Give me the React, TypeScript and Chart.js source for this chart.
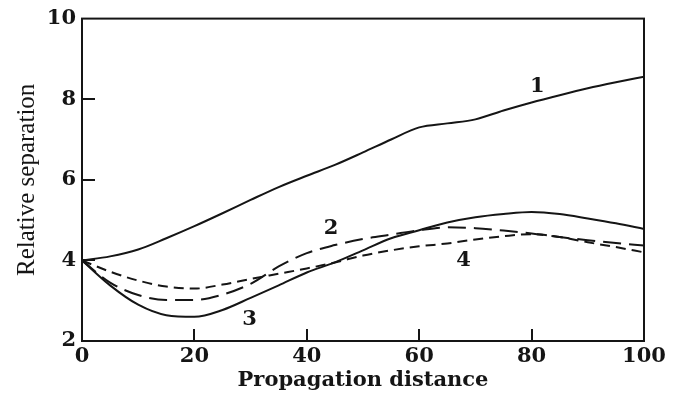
import React, { useEffect, useRef } from 'react';
import { Chart, registerables } from 'chart.js';

Chart.register(...registerables);

// Propagation distance sample points
const distances = [0, 5, 10, 15, 20, 25, 30, 35, 40, 45, 50, 55, 60, 65, 70, 75, 80, 85, 90, 95, 100];
// Relative separation for each curve
const curve1 = [4.0, 4.1, 4.27, 4.55, 4.85, 5.17, 5.5, 5.82, 6.1, 6.37, 6.68, 7.0, 7.3, 7.4, 7.5, 7.72, 7.92, 8.1, 8.27, 8.42, 8.56];
const curve2 = [4.0, 3.45, 3.14, 3.02, 3.02, 3.15, 3.42, 3.85, 4.18, 4.38, 4.53, 4.64, 4.75, 4.82, 4.8, 4.74, 4.67, 4.58, 4.5, 4.43, 4.37];
const curve3 = [4.0, 3.38, 2.9, 2.64, 2.6, 2.77, 3.07, 3.38, 3.7, 3.95, 4.25, 4.55, 4.75, 4.94, 5.07, 5.15, 5.2, 5.15, 5.04, 4.92, 4.78];
const curve4 = [4.0, 3.72, 3.5, 3.35, 3.3, 3.4, 3.54, 3.67, 3.8, 3.95, 4.12, 4.25, 4.35, 4.42, 4.52, 4.6, 4.65, 4.58, 4.45, 4.33, 4.2];

// Axis tick values
const xTickValues = [0, 20, 40, 60, 80, 100];
const yTickValues = [2, 4, 6, 8, 10];

// Curve number annotations (data coordinates)
const curveLabels = ['1', '2', '3', '4'];
const curveLabelX = [81, 44.3, 29.8, 67.9];
const curveLabelY = [8.31, 4.8, 2.54, 4.0];

const xTitle = 'Propagation distance';
const yTitle = 'Relative separation';

const INK = '#151515';

export default function App() {
  const canvasRef = useRef<HTMLCanvasElement | null>(null);

  useEffect(() => {
    const canvas = canvasRef.current;
    if (!canvas) return;
    const common = {
      borderColor: INK,
      borderWidth: 2,
      pointRadius: 0,
      fill: false,
      cubicInterpolationMode: 'monotone' as const,
    };
    const frameAndLabels = {
      id: 'frameAndLabels',
      afterDraw(chart: any) {
        const c: CanvasRenderingContext2D = chart.ctx;
        const a = chart.chartArea;
        const xs = chart.scales.x;
        const ys = chart.scales.y;
        c.save();
        c.strokeStyle = INK;
        c.lineWidth = 2;
        c.strokeRect(a.left, a.top, a.right - a.left, a.bottom - a.top);
        c.fillStyle = INK;
        // inward tick marks
        for (let i = 1; i < xTickValues.length - 1; i++) {
          const px = Math.round(xs.getPixelForValue(xTickValues[i]));
          c.fillRect(px - 1, a.bottom - 12, 2, 12);
        }
        for (let i = 1; i < yTickValues.length - 1; i++) {
          const py = Math.round(ys.getPixelForValue(yTickValues[i]));
          c.fillRect(a.left, py - 1, 13, 2);
        }
        // curve numbers
        c.font = 'bold 21px "DejaVu Serif"';
        c.textAlign = 'center';
        c.textBaseline = 'middle';
        curveLabels.forEach((s, i) => {
          c.fillText(s, xs.getPixelForValue(curveLabelX[i]), ys.getPixelForValue(curveLabelY[i]));
        });
        c.restore();
      },
    };
    const chart = new Chart(canvas, {
      type: 'line',
      data: {
        datasets: [
          { ...common, label: '1', data: toPoints(curve1) },
          { ...common, label: '2', data: toPoints(curve2), borderDash: [18, 8] },
          { ...common, label: '3', data: toPoints(curve3) },
          { ...common, label: '4', data: toPoints(curve4), borderDash: [10, 6] },
        ],
      },
      options: {
        responsive: false,
        animation: false,
        events: [],
        layout: { padding: { left: 0, top: 12, right: 39, bottom: 0 } },
        plugins: {
          legend: { display: false },
          tooltip: { enabled: false },
        },
        scales: {
          x: {
            type: 'linear',
            min: 0,
            max: 100,
            grid: { display: false, drawTicks: false },
            border: { display: false },
            afterBuildTicks(scale: any) {
              scale.ticks = xTickValues.map((v) => ({ value: v }));
            },
            ticks: {
              padding: 3,
              color: INK,
              font: { family: '"DejaVu Serif"', size: 21, weight: 'bold' },
              maxRotation: 0,
              autoSkip: false,
            },
            title: {
              display: true,
              text: xTitle,
              color: INK,
              font: { family: '"DejaVu Serif"', size: 21, weight: 'bold' },
              padding: { top: 0, bottom: 6 },
            },
            afterFit(scale: any) {
              scale.height = 58;
            },
          },
          y: {
            type: 'linear',
            min: 2,
            max: 10,
            grid: { display: false, drawTicks: false },
            border: { display: false },
            afterBuildTicks(scale: any) {
              scale.ticks = yTickValues.map((v) => ({ value: v }));
            },
            ticks: {
              padding: 6,
              color: INK,
              autoSkip: false,
              font: { family: '"DejaVu Serif"', size: 21, weight: 'bold' },
            },
            title: {
              display: true,
              text: yTitle,
              color: INK,
              font: { family: '"Liberation Serif"', size: 25, weight: 'normal' },
              padding: { top: 12, bottom: 0 },
            },
            afterFit(scale: any) {
              scale.width = 82;
            },
          },
        },
      },
      plugins: [frameAndLabels],
    });
    return () => chart.destroy();
  }, []);

  return (
    <div style={{ position: 'fixed', left: 0, top: 0, width: 683, height: 399, background: '#fff' }}>
      <canvas ref={canvasRef} width={683} height={399} />
    </div>
  );
}

function toPoints(ys: number[]) {
  return distances.map((d, i) => ({ x: d, y: ys[i] }));
}
